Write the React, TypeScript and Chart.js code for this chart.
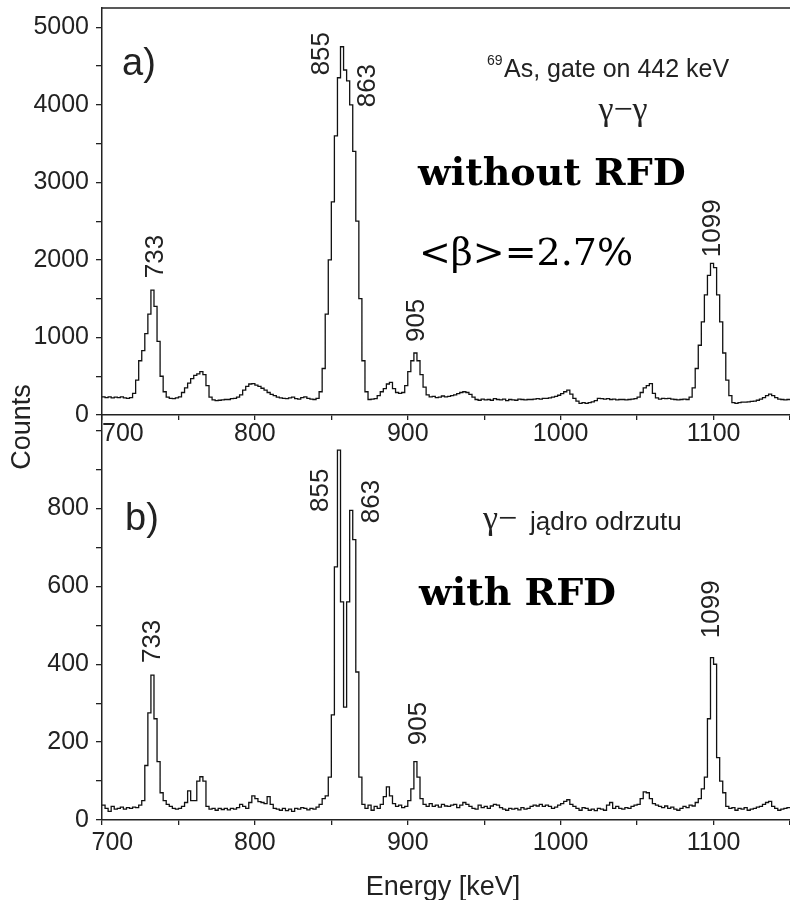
import React, { useEffect, useRef } from 'react';
import { Chart, registerables } from 'chart.js';

Chart.register(...registerables);

// ---------------- data ----------------
const BIN_START = 700; // keV, start of first bin
const BIN_WIDTH = 2; // keV
const X_MIN = 700;
const X_MAX = 1150;

// a) gamma-gamma, gate on 442 keV (without RFD)
const countsGammaGamma = [
  235, 225, 235, 220, 230, 225, 235, 220, 215, 225,
  280, 450, 700, 830, 1050, 1300, 1610, 1400, 950, 500,
  300, 230, 215, 210, 220, 235, 290, 350, 410, 470,
  510, 530, 560, 520, 380, 230, 195, 185, 190, 195,
  200, 200, 210, 215, 230, 260, 320, 370, 400, 405,
  385, 370, 345, 320, 290, 265, 250, 230, 220, 215,
  210, 220, 230, 210, 205, 225, 235, 215, 205, 200,
  215, 300, 600, 1300, 2000, 2750, 3600, 4350, 4750, 4450,
  4310, 4000, 3400, 2500, 1500, 700, 300, 200, 205, 210,
  250, 300, 340, 400, 420, 340, 290, 280, 290, 380,
  560, 700, 800, 700, 520, 360, 260, 235, 240, 225,
  230, 245, 235, 240, 250, 260, 275, 290, 300, 290,
  265, 230, 200, 190, 205, 195, 200, 190, 210, 200,
  195, 205, 185, 200, 195, 190, 205, 200, 195, 200,
  200, 205, 210, 205, 215, 215, 220, 230, 240, 255,
  275, 300, 320, 270, 215, 180, 150, 160, 150, 160,
  170, 185, 215, 210, 205, 210, 200, 205, 195, 200,
  200, 195, 200, 205, 210, 230, 290, 350, 380, 405,
  280, 220, 205, 215, 210, 215, 205, 200, 195, 200,
  205, 200, 230, 350, 600, 900, 1200, 1550, 1800, 1955,
  1900, 1550, 1200, 800, 450, 250, 160, 150, 160, 165,
  165, 170, 175, 180, 190, 205, 225, 250, 270, 250,
  225, 205, 200, 195, 200,
];

// b) gamma - recoil nucleus (with RFD)
const countsRecoil = [
  38, 30, 22, 35, 28, 30, 33, 28, 32, 30,
  33, 32, 38, 50, 140, 275, 372, 260, 150, 70,
  50, 40, 35, 30, 28, 30, 35, 45, 75, 50,
  50, 100, 111, 100, 35, 28, 30, 25, 30, 27,
  30, 26, 30, 28, 32, 40, 35, 30, 45, 62,
  55, 47, 45, 42, 60, 40, 30, 28, 25, 30,
  24, 28, 22, 30, 28, 32, 30, 26, 30, 28,
  33, 40, 55, 62, 110, 270, 650, 950, 560, 290,
  560, 795, 720, 380, 110, 40, 30, 38, 25, 35,
  30, 40, 60, 85, 62, 42, 35, 38, 32, 35,
  50, 80, 150, 110, 55, 40, 35, 42, 35, 38,
  33, 40, 36, 35, 38, 40, 32, 38, 45, 40,
  35, 30, 28, 38, 32, 35, 30, 36, 40, 38,
  32, 28, 25, 30, 28, 30, 26, 32, 28, 30,
  35, 38, 36, 40, 35, 38, 35, 30, 33, 38,
  42, 48, 52, 40, 35, 30, 25, 32, 30, 25,
  28, 24, 30, 28, 25, 38, 45, 30, 35, 30,
  28, 32, 30, 35, 38, 40, 55, 72, 70, 55,
  42, 38, 35, 32, 36, 30, 33, 28, 25, 30,
  35, 32, 38, 36, 45, 55, 80, 110, 260, 417,
  400, 160, 100, 70, 35, 30, 32, 25, 30, 28,
  32, 25, 28, 30, 33, 35, 40, 45, 48, 35,
  30, 25, 28, 30, 32,
];

// tick positions and labels
const xTickValues = [700, 750, 800, 850, 900, 950, 1000, 1050, 1100, 1150];
const xTickLabels = ['700', '800', '900', '1000', '1100'];
const topYTickValues = [0, 500, 1000, 1500, 2000, 2500, 3000, 3500, 4000, 4500, 5000];
const topYTickLabels = ['0', '1000', '2000', '3000', '4000', '5000'];
const bottomYTickValues = [0, 100, 200, 300, 400, 500, 600, 700, 800, 900, 1000];
const bottomYTickLabels = ['0', '200', '400', '600', '800'];

// peak labels (rotated), anchored in data coordinates (energy, counts)
const peakLabels = ['733', '855', '863', '905', '1099'];
const topLabelEnergy = [735.3, 843.5, 873.7, 905.7, 1099.7];
const topLabelCount = [1765, 4381, 3969, 941, 2036];
const bottomLabelEnergy = [733.3, 843, 876.7, 907, 1098.7];
const bottomLabelCount = [403, 791, 762, 192, 467];

// ---------------- styling ----------------
const SANS = '"Liberation Sans", Arial, sans-serif';
const SERIF = '"Liberation Serif", "Times New Roman", serif';
const SERIF2 = '"DejaVu Serif", serif';
const AXIS = '#222';
const TEXT = '#222';
const LINE = '#111';

function toPoints(counts: number[]) {
  const pts = counts.map((c, i) => ({ x: BIN_START + i * BIN_WIDTH, y: c }));
  pts.push({ x: X_MAX, y: counts[counts.length - 1] });
  return pts;
}

function xScale(height: number, padding: number, align: string, labelFor: (v: number) => string) {
  return {
    type: 'linear',
    min: X_MIN,
    max: X_MAX,
    afterBuildTicks: (s: any) => {
      s.ticks = xTickValues.map((value) => ({ value }));
    },
    afterFit: (s: any) => {
      s.height = height;
      s.paddingLeft = 0;
      s.paddingRight = 0;
      s.paddingTop = 0;
      s.paddingBottom = 0;
    },
    border: { display: true, color: AXIS, width: 1.5 },
    grid: { drawOnChartArea: false, drawTicks: true, tickLength: 5, color: AXIS, lineWidth: 1.3 },
    ticks: {
      autoSkip: false,
      maxRotation: 0,
      minRotation: 0,
      align,
      padding,
      color: TEXT,
      font: { family: SANS, size: 25, lineHeight: 1 },
      callback: (v: any) => labelFor(Number(v)),
    },
  };
}

function yScale(max: number, values: number[], labels: string[]) {
  return {
    min: 0,
    max,
    afterBuildTicks: (s: any) => {
      s.ticks = values.map((value) => ({ value }));
    },
    afterFit: (s: any) => {
      s.width = 102;
      s.paddingLeft = 0;
      s.paddingRight = 0;
      s.paddingTop = 0;
      s.paddingBottom = 0;
    },
    border: { display: true, color: AXIS, width: 1.5 },
    grid: { drawOnChartArea: false, drawTicks: true, tickLength: 6, color: AXIS, lineWidth: 1.3 },
    ticks: {
      autoSkip: false,
      padding: 7,
      color: TEXT,
      font: { family: SANS, size: 25, lineHeight: 1 },
      callback: (v: any) => (labels.includes(String(v)) ? String(v) : ''),
    },
  };
}

function drawPeakLabels(chart: any, energies: number[], counts: number[]) {
  const { ctx, scales } = chart;
  ctx.save();
  ctx.font = `26px ${SANS}`;
  ctx.fillStyle = TEXT;
  peakLabels.forEach((t, i) => {
    const px = scales.x.getPixelForValue(energies[i]);
    const py = scales.y.getPixelForValue(counts[i]);
    ctx.save();
    ctx.translate(px, py);
    ctx.rotate(-Math.PI / 2);
    ctx.textAlign = 'left';
    ctx.textBaseline = 'middle';
    ctx.fillText(t, 0, 0);
    ctx.restore();
  });
  ctx.restore();
}

function text(ctx: any, s: string, x: number, y: number, font: string, color: string, align = 'left') {
  ctx.font = font;
  ctx.fillStyle = color;
  ctx.textAlign = align;
  ctx.textBaseline = 'alphabetic';
  ctx.fillText(s, x, y);
}

const topPlugin = {
  id: 'topDecor',
  afterDraw(chart: any) {
    const { ctx, chartArea } = chart;
    ctx.save();
    // top frame line
    ctx.strokeStyle = AXIS;
    ctx.lineWidth = 1.5;
    ctx.beginPath();
    ctx.moveTo(chartArea.left, chartArea.top);
    ctx.lineTo(chartArea.right, chartArea.top);
    ctx.stroke();

    drawPeakLabels(chart, topLabelEnergy, topLabelCount);

    text(ctx, 'a)', 122, 75, `38px ${SANS}`, TEXT);
    text(ctx, '69', 487, 65, `14px ${SANS}`, TEXT);
    text(ctx, 'As, gate on 442 keV', 504, 77, `25px ${SANS}`, TEXT);
    text(ctx, 'γ−γ', 623, 120, `34px ${SERIF}`, TEXT, 'center');
    text(ctx, 'without RFD', 418, 185, `bold 38px ${SERIF2}`, '#000');
    text(ctx, '<β>=2.7%', 419, 265, `38px ${SERIF2}`, '#000');

    // shared y axis title
    ctx.save();
    ctx.translate(22.5, 427);
    ctx.rotate(-Math.PI / 2);
    ctx.font = `27px ${SANS}`;
    ctx.fillStyle = TEXT;
    ctx.textAlign = 'center';
    ctx.textBaseline = 'middle';
    ctx.fillText('Counts', 0, 0);
    ctx.restore();
    ctx.restore();
  },
};

const bottomPlugin = {
  id: 'bottomDecor',
  afterDraw(chart: any) {
    const { ctx } = chart;
    ctx.save();
    drawPeakLabels(chart, bottomLabelEnergy, bottomLabelCount);
    text(ctx, 'b)', 125, 115, `38px ${SANS}`, TEXT);
    text(ctx, 'γ−', 483, 114, `34px ${SERIF}`, TEXT);
    text(ctx, 'jądro odrzutu', 530, 115, `26px ${SANS}`, TEXT);
    text(ctx, 'with RFD', 419, 190, `bold 38px ${SERIF2}`, '#000');
    text(ctx, 'Energy [keV]', 443, 480, `27px ${SANS}`, TEXT, 'center');
    ctx.restore();
  },
};

function makeConfig(
  counts: number[],
  yMax: number,
  yValues: number[],
  yLabels: string[],
  xHeight: number,
  xPad: number,
  xAlign: string,
  xLabelFor: (v: number) => string,
  padTop: number,
  plugin: any
): any {
  return {
    type: 'line',
    data: {
      datasets: [
        {
          data: toPoints(counts),
          borderColor: LINE,
          borderWidth: 1.3,
          pointRadius: 0,
          stepped: true,
          fill: false,
          tension: 0,
        },
      ],
    },
    options: {
      responsive: false,
      animation: false,
      devicePixelRatio: 1,
      layout: { autoPadding: false, padding: { top: padTop, left: 0, right: 0, bottom: 0 } },
      plugins: { legend: { display: false }, tooltip: { enabled: false }, title: { display: false } },
      scales: {
        x: xScale(xHeight, xPad, xAlign, xLabelFor),
        y: yScale(yMax, yValues, yLabels),
      },
    },
    plugins: [plugin],
  };
}

export default function App() {
  const topRef = useRef<HTMLCanvasElement>(null);
  const botRef = useRef<HTMLCanvasElement>(null);

  useEffect(() => {
    const topLabel = (v: number) => (xTickLabels.includes(String(v)) ? String(v) : '');
    const botLabel = (v: number) => {
      const s = String(v);
      if (!xTickLabels.includes(s)) return '';
      return s === '700' ? '   700' : s;
    };
    const top = new Chart(
      topRef.current as HTMLCanvasElement,
      makeConfig(countsGammaGamma, 5250, topYTickValues, topYTickLabels, 65, 2, 'inner', topLabel, 8, topPlugin)
    );
    const bot = new Chart(
      botRef.current as HTMLCanvasElement,
      makeConfig(countsRecoil, 1040, bottomYTickValues, bottomYTickLabels, 80, 6, 'center', botLabel, 0, bottomPlugin)
    );
    return () => {
      top.destroy();
      bot.destroy();
    };
  }, []);

  return (
    <div style={{ position: 'fixed', left: 0, top: 0, width: 790, height: 900, background: '#fff' }}>
      <canvas ref={topRef} width={790} height={480} style={{ position: 'absolute', left: 0, top: 0 }} />
      <canvas ref={botRef} width={790} height={485} style={{ position: 'absolute', left: 0, top: 415 }} />
    </div>
  );
}
